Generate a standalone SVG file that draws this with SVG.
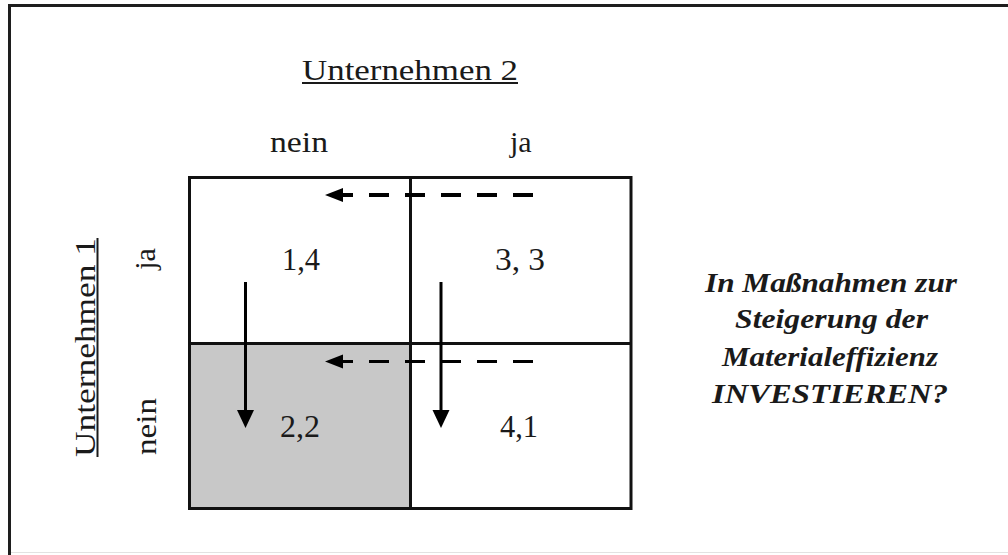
<svg xmlns="http://www.w3.org/2000/svg" width="1008" height="555" viewBox="0 0 1008 555">
  <style>
    .lbl { font-family: "Liberation Serif", "Times New Roman", serif; fill: #1a1a1a; }
    .big { font-size: 30px; }
    .num { font-size: 31px; }
    .q { font-size: 27px; font-weight: bold; font-style: italic; }
    .grid { fill: none; stroke: #111; stroke-width: 3; }
    .arr { fill: none; stroke: #000; stroke-width: 3; }
    .dash { fill: none; stroke: #000; stroke-dasharray: 20 16; }
  </style>
  <defs>
    <marker id="headV" markerUnits="userSpaceOnUse" markerWidth="20" markerHeight="20" refX="0" refY="0" orient="auto" overflow="visible">
      <path d="M0,-8.5 L18,0 L0,8.5 Z" fill="#000" stroke="none"/>
    </marker>
    <marker id="headD" markerUnits="userSpaceOnUse" markerWidth="20" markerHeight="20" refX="0" refY="0" orient="auto" overflow="visible">
      <path d="M0,-7 L18,0 L0,7 Z" fill="#000" stroke="none"/>
    </marker>
  </defs>

  <rect width="1008" height="555" fill="#fff"/>

  <g id="frame">
    <line x1="8" y1="5.5" x2="1008" y2="5.5" stroke="#1e1e1e" stroke-width="3"/>
    <line x1="9.5" y1="4" x2="9.5" y2="555" stroke="#1e1e1e" stroke-width="3"/>
    <line x1="11" y1="552.5" x2="1008" y2="552.5" stroke="#e2e2e2" stroke-width="1"/>
  </g>

  <g id="matrix">
    <rect x="189.5" y="343.5" width="221" height="165" fill="#c8c8c8"/>
    <rect class="grid" x="189.5" y="177.5" width="441.5" height="331"/>
    <line class="grid" x1="410.5" y1="177.5" x2="410.5" y2="508.5"/>
    <line class="grid" x1="189.5" y1="343.5" x2="631" y2="343.5"/>
  </g>

  <g id="header-u2">
    <text class="lbl big" x="302" y="80" textLength="216" lengthAdjust="spacingAndGlyphs">Unternehmen 2</text>
    <line x1="302" y1="83" x2="518" y2="83" stroke="#1a1a1a" stroke-width="2"/>
    <text class="lbl big" x="270" y="152" textLength="58" lengthAdjust="spacingAndGlyphs">nein</text>
    <text class="lbl big" x="510" y="152">ja</text>
  </g>

  <g id="header-u1">
    <g transform="translate(95,347.5) rotate(-90)">
      <text class="lbl big" x="0" y="0" text-anchor="middle" textLength="219" lengthAdjust="spacingAndGlyphs">Unternehmen 1</text>
      <line x1="-109.5" y1="2.5" x2="109.5" y2="2.5" stroke="#1a1a1a" stroke-width="2"/>
    </g>
    <text class="lbl big" transform="translate(155,259) rotate(-90)" x="0" y="0" text-anchor="middle">ja</text>
    <text class="lbl big" transform="translate(156,426.5) rotate(-90)" x="0" y="0" text-anchor="middle" textLength="57" lengthAdjust="spacingAndGlyphs">nein</text>
  </g>

  <g id="cell-ja-nein">
    <text class="lbl num" x="301" y="270" text-anchor="middle" textLength="38" lengthAdjust="spacingAndGlyphs">1,4</text>
  </g>
  <g id="cell-ja-ja">
    <text class="lbl num" x="520" y="270" text-anchor="middle" textLength="50" lengthAdjust="spacingAndGlyphs">3, 3</text>
  </g>
  <g id="cell-nein-nein">
    <text class="lbl num" x="300" y="437" text-anchor="middle" textLength="40" lengthAdjust="spacingAndGlyphs">2,2</text>
  </g>
  <g id="cell-nein-ja">
    <text class="lbl num" x="519" y="437" text-anchor="middle" textLength="38" lengthAdjust="spacingAndGlyphs">4,1</text>
  </g>

  <g id="question">
    <text class="lbl q" x="705" y="292" textLength="252" lengthAdjust="spacingAndGlyphs">In Maßnahmen zur</text>
    <text class="lbl q" x="735" y="328" textLength="193" lengthAdjust="spacingAndGlyphs">Steigerung der</text>
    <text class="lbl q" x="722" y="366" textLength="216" lengthAdjust="spacingAndGlyphs">Materialeffizienz</text>
    <text class="lbl q" x="712" y="403" textLength="236" lengthAdjust="spacingAndGlyphs">INVESTIEREN?</text>
  </g>

  <g id="connectors">
    <path class="dash" stroke-width="4" d="M533,195 H343" marker-end="url(#headD)"/>
    <path class="dash" stroke-width="3" d="M533,361.5 H343" marker-end="url(#headD)"/>
    <path class="arr" d="M245.5,282 V410" marker-end="url(#headV)"/>
    <path class="arr" d="M441,282 V410" marker-end="url(#headV)"/>
  </g>
</svg>
